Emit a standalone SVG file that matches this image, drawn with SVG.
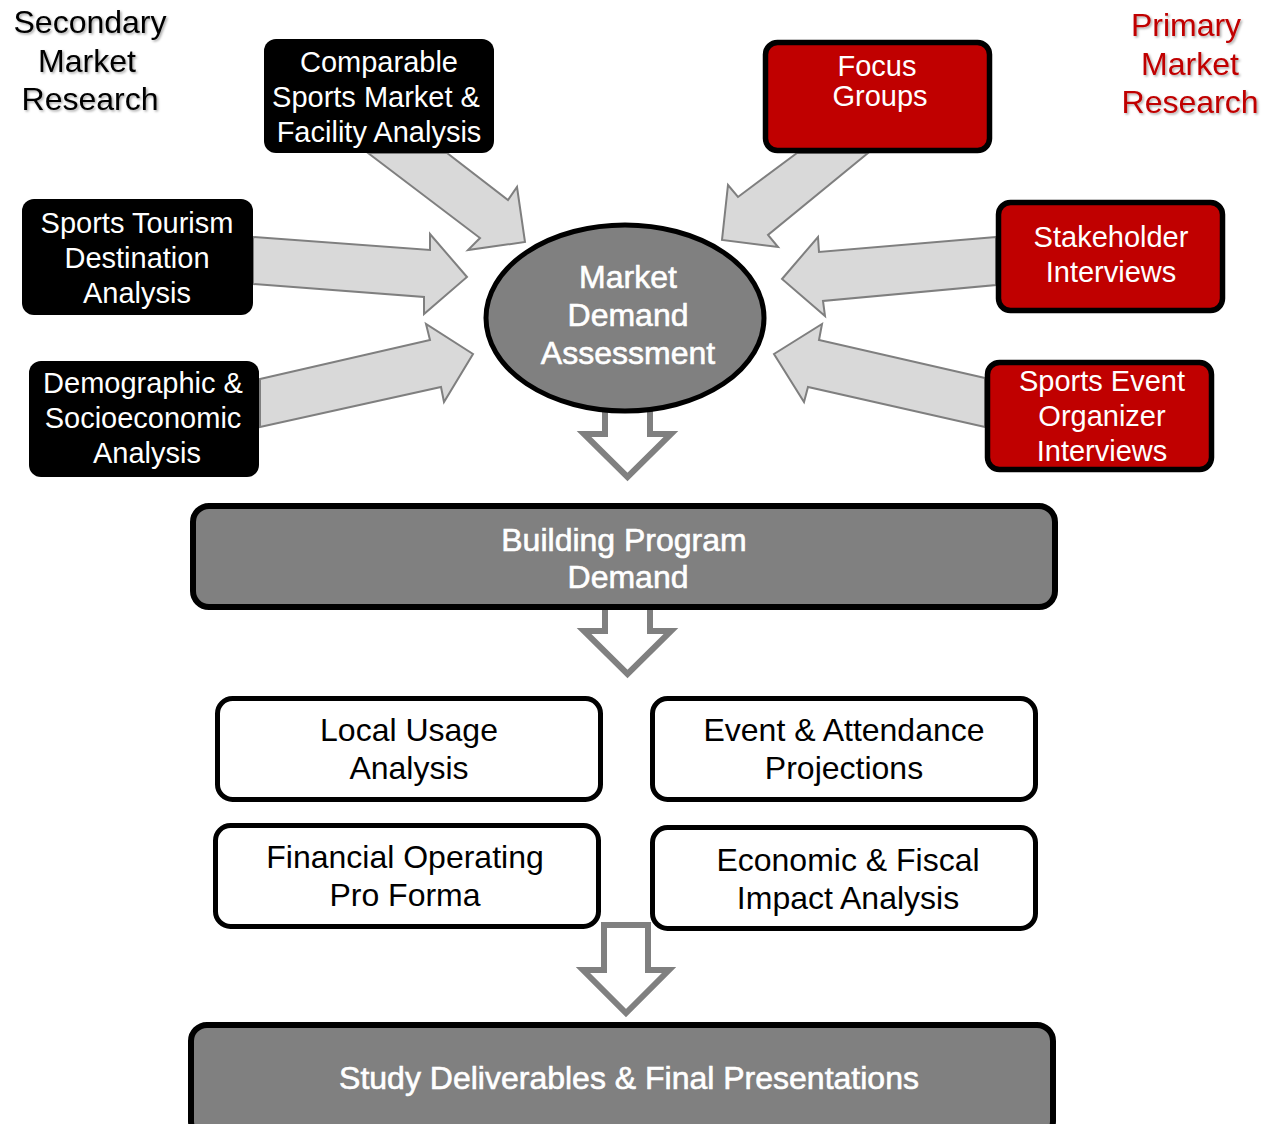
<svg xmlns="http://www.w3.org/2000/svg" width="1272" height="1124" viewBox="0 0 1272 1124">
  <defs>
    <filter id="soft-shadow" x="-10%" y="-10%" width="130%" height="140%">
      <feDropShadow dx="1.5" dy="1.5" stdDeviation="0.8" flood-color="#000" flood-opacity="0.35"/>
    </filter>
    <style>
      text { font-family: "Liberation Sans", Arial, sans-serif; text-anchor: middle; }
      .side { font-size: 32px; filter: url(#soft-shadow); }
      .side-dark { fill: #000; }
      .side-red { fill: #c00000; }
      .src { fill: #000; }
      .src-red { fill: #c00000; stroke: #000; stroke-width: 5.5; }
      .src-text { font-size: 29px; fill: #fff; }
      .core { fill: #808080; stroke: #000; stroke-width: 5; }
      .core-bar { fill: #808080; stroke: #000; stroke-width: 6; }
      .core-text { font-size: 32px; fill: #fff; stroke: #fff; stroke-width: 0.6; }
      .task { fill: #fff; stroke: #000; stroke-width: 5; }
      .task-text { font-size: 32px; fill: #000; }
      .feed { fill: #d9d9d9; stroke: #7f7f7f; stroke-width: 2; stroke-linejoin: miter; }
      .flow { fill: #fff; stroke: #808080; stroke-width: 6; stroke-linejoin: miter; }
    </style>
  </defs>

  <!-- section headings -->
  <g id="secondary-label" class="side side-dark">
    <text x="90" y="33">Secondary</text>
    <text x="87" y="71.5">Market</text>
    <text x="90" y="110">Research</text>
  </g>
  <g id="primary-label" class="side side-red">
    <text x="1186" y="36">Primary</text>
    <text x="1190" y="75">Market</text>
    <text x="1190" y="113">Research</text>
  </g>

  <!-- connectors -->
  <g id="connectors">
    <polygon class="feed" points="368,153 480,238 468,250 525,242 517,187 508,200 447,153"/>
    <polygon class="feed" points="253,237 430,250 430,234 467,277 424,314 424,297 253,284"/>
    <polygon class="feed" points="260,379 430,340 426,324 473,354 444,402 441,387 260,427"/>
    <polygon class="feed" points="797,153 738,197 728,185 722,240 778,247 768,235 868,153"/>
    <polygon class="feed" points="996,237 819,252 818,237 782,279 825,316 823,301 996,285"/>
    <polygon class="feed" points="985,378 819,340 822,324 774,354 804,402 808,387 985,427"/>
    <polygon class="flow" points="605,395 650,395 650,434 671,434 627.5,477 584,434 605,434"/>
    <polygon class="flow" points="605,595 650,595 650,631 671,631 627.5,674 584,631 605,631"/>
    <polygon class="flow" points="604,925 648,925 648,970 669,970 626,1013 583,970 604,970"/>
  </g>

  <!-- secondary research sources -->
  <g id="node-comparable">
    <rect class="src" x="264" y="39" width="230" height="114" rx="12"/>
    <text class="src-text" x="379" y="72">Comparable</text>
    <text class="src-text" x="376" y="107">Sports Market &amp;</text>
    <text class="src-text" x="379" y="142">Facility Analysis</text>
  </g>
  <g id="node-tourism">
    <rect class="src" x="22" y="199" width="231" height="116" rx="12"/>
    <text class="src-text" x="137" y="233">Sports Tourism</text>
    <text class="src-text" x="137" y="268">Destination</text>
    <text class="src-text" x="137" y="303">Analysis</text>
  </g>
  <g id="node-demographic">
    <rect class="src" x="29" y="361" width="230" height="116" rx="12"/>
    <text class="src-text" x="143" y="393">Demographic &amp;</text>
    <text class="src-text" x="143" y="428">Socioeconomic</text>
    <text class="src-text" x="147" y="463">Analysis</text>
  </g>

  <!-- primary research sources -->
  <g id="node-focus">
    <rect class="src-red" x="765.5" y="42.5" width="224" height="108" rx="12"/>
    <text class="src-text" x="877" y="76">Focus</text>
    <text class="src-text" x="880" y="106">Groups</text>
  </g>
  <g id="node-stakeholder">
    <rect class="src-red" x="998.5" y="202.5" width="224" height="108" rx="12"/>
    <text class="src-text" x="1111" y="247">Stakeholder</text>
    <text class="src-text" x="1111" y="282">Interviews</text>
  </g>
  <g id="node-event-organizer">
    <rect class="src-red" x="987.5" y="362.5" width="224" height="107" rx="12"/>
    <text class="src-text" x="1102" y="391">Sports Event</text>
    <text class="src-text" x="1102" y="426">Organizer</text>
    <text class="src-text" x="1102" y="461">Interviews</text>
  </g>

  <!-- central assessment -->
  <g id="node-assessment">
    <ellipse class="core" cx="625" cy="318" rx="139" ry="93"/>
    <text class="core-text" x="628" y="288">Market</text>
    <text class="core-text" x="628" y="326">Demand</text>
    <text class="core-text" x="628" y="364">Assessment</text>
  </g>

  <g id="node-building-program">
    <rect class="core-bar" x="193" y="506" width="862" height="101" rx="16"/>
    <text class="core-text" x="624" y="551">Building Program</text>
    <text class="core-text" x="628" y="588">Demand</text>
  </g>

  <!-- analysis tasks -->
  <g id="node-local-usage">
    <rect class="task" x="217.5" y="698.5" width="383" height="101" rx="15"/>
    <text class="task-text" x="409" y="741">Local Usage</text>
    <text class="task-text" x="409" y="779">Analysis</text>
  </g>
  <g id="node-event-attendance">
    <rect class="task" x="652.5" y="698.5" width="383" height="101" rx="15"/>
    <text class="task-text" x="844" y="741">Event &amp; Attendance</text>
    <text class="task-text" x="844" y="779">Projections</text>
  </g>
  <g id="node-pro-forma">
    <rect class="task" x="215.5" y="825.5" width="383" height="101" rx="15"/>
    <text class="task-text" x="405" y="868">Financial Operating</text>
    <text class="task-text" x="405" y="906">Pro Forma</text>
  </g>
  <g id="node-economic-impact">
    <rect class="task" x="652.5" y="827.5" width="383" height="101" rx="15"/>
    <text class="task-text" x="848" y="871">Economic &amp; Fiscal</text>
    <text class="task-text" x="848" y="909">Impact Analysis</text>
  </g>

  <g id="node-deliverables">
    <rect class="core-bar" x="191" y="1025" width="862" height="112" rx="16"/>
    <text class="core-text" x="629" y="1089">Study Deliverables &amp; Final Presentations</text>
  </g>
</svg>
